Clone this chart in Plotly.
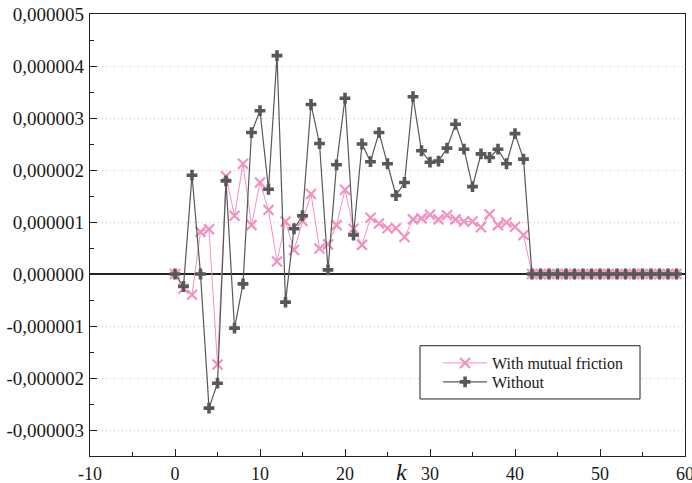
import plotly.graph_objects as go

k = list(range(0, 60))

with_friction = [0.0, -0.28, -0.40, 0.81, 0.86, -1.74, 1.88, 1.12, 2.12, 0.94,
                 1.76, 1.23, 0.24, 1.01, 0.46, 1.02, 1.54, 0.49, 0.57, 0.94,
                 1.62, 0.87, 0.56, 1.08, 0.97, 0.88, 0.88, 0.71, 1.05, 1.07,
                 1.14, 1.05, 1.13, 1.05, 1.01, 1.01, 0.90, 1.15, 0.94, 0.99,
                 0.91, 0.75] + [0.0] * 18

without = [0.0, -0.24, 1.90, 0.0, -2.58, -2.10, 1.79, -1.04, -0.19, 2.72,
           3.14, 1.63, 4.20, -0.54, 0.87, 1.12, 3.26, 2.51, 0.08, 2.10,
           3.38, 0.75, 2.50, 2.16, 2.72, 2.12, 1.51, 1.76, 3.41, 2.37,
           2.15, 2.17, 2.42, 2.88, 2.40, 1.68, 2.31, 2.24, 2.40, 2.12,
           2.70, 2.21] + [0.0] * 18

scale = 1e-6
with_friction = [v * scale for v in with_friction]
without = [v * scale for v in without]

x_ticks = [-10, 0, 10, 20, 30, 40, 50, 60]
x_ticktext = ["-10", "0", "10", "20", "30", "40", "50", "60"]
y_ticks = [5e-6, 4e-6, 3e-6, 2e-6, 1e-6, 0.0, -1e-6, -2e-6, -3e-6]
y_ticktext = ["0,000005", "0,000004", "0,000003", "0,000002", "0,000001",
              "0,000000", "-0,000001", "-0,000002", "-0,000003"]

PINK = "#f291c1"
GRAY = "#585858"
FONT = "Times New Roman, Liberation Serif, serif"
TXT = "#1a1a1a"

L, R, T, B = 90, 7, 14, 27
W, H = 692, 483

fig = go.Figure()
fig.add_trace(go.Scatter(
    x=k, y=with_friction, name="With mutual friction", mode="lines+markers",
    line=dict(color=PINK, width=1),
    marker=dict(symbol="x-thin", size=10, color=PINK, line=dict(color=PINK, width=2.2)),
    legend="legend",
))
fig.add_trace(go.Scatter(
    x=k, y=without, name="Without", mode="lines+markers",
    line=dict(color=GRAY, width=1.2),
    marker=dict(symbol="cross", size=9, color=GRAY, line=dict(width=0)),
    legend="legend2",
))

leg_common = dict(
    xanchor="left", yanchor="middle",
    borderwidth=0, bgcolor="rgba(0,0,0,0)",
    font=dict(family=FONT, size=16, color=TXT),
    tracegroupgap=0, itemwidth=44,
)

fig.update_layout(
    template="none",
    width=W, height=H,
    margin=dict(l=L, r=R, t=T, b=B),
    paper_bgcolor="white", plot_bgcolor="white",
    font=dict(family=FONT, size=19, color=TXT),
    showlegend=True,
    legend=dict(x=0.585, y=0.2104, **leg_common),
    legend2=dict(x=0.585, y=0.1674, **leg_common),
)

# legend frame
fig.add_shape(type="rect", xref="paper", yref="paper",
              x0=0.5546, x1=0.9244, y0=0.129, y1=0.2495,
              line=dict(color="#222", width=1), fillcolor="white", layer="above")

fig.update_xaxes(
    range=[-10, 60], tickvals=x_ticks, ticktext=x_ticktext,
    showline=True, mirror=True, linecolor="#222", linewidth=1.2,
    ticks="inside", ticklen=7, tickcolor="#222", tickwidth=1,
    minor=dict(ticks="inside", ticklen=4, dtick=5, tick0=0, tickcolor="#222", showgrid=False),
    showgrid=False, zeroline=False, ticklabelstandoff=1,
    ticklabeloverflow="allow",
    tickfont=dict(family=FONT, size=18, color=TXT),
)
fig.update_yaxes(
    range=[-3.5e-6, 5e-6], tickvals=y_ticks, ticktext=y_ticktext,
    showline=True, mirror=True, linecolor="#222", linewidth=1.2,
    ticks="inside", ticklen=7, tickcolor="#222", tickwidth=1,
    minor=dict(ticks="inside", ticklen=4, dtick=0.5e-6, tick0=0, tickcolor="#222", showgrid=False),
    showgrid=True, gridcolor="#c4c4c4", griddash="1px,3px", gridwidth=1,
    zeroline=True, zerolinecolor="#222", zerolinewidth=1.5,
    ticklabelstandoff=1, ticklabeloverflow="allow",
    tickfont=dict(family=FONT, size=19, color=TXT),
)

fig.add_annotation(
    text="<i>k</i>", xref="x", yref="paper", x=26.6, y=-0.036,
    xanchor="center", yanchor="middle", showarrow=False, borderpad=0,
    font=dict(family=FONT, size=24, color=TXT),
)

fig.write_html("out.html")
